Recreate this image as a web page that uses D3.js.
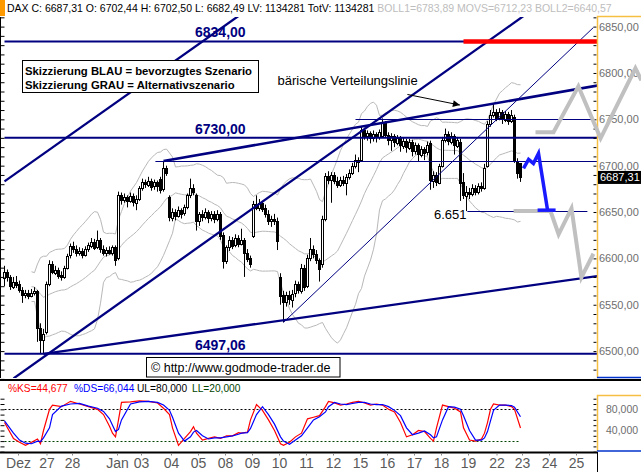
<!DOCTYPE html>
<html>
<head>
<meta charset="utf-8">
<script src="https://cdn.jsdelivr.net/npm/d3@7"></script>
<style>
body { margin: 0; background: #fff; }
svg { display: block; font-family: "Liberation Sans", Arial, sans-serif; }
</style>
</head>
<body>
<svg id="chart" width="641" height="472"></svg>
<script>
// hourly DAX candles, 22 Dec - 23 Jan
var opens = [6578,6585,6580,6570,6575,6572,6566,6561,6563,6560,
  6563,6565,6525,6512,6520,6572,6594,6585,6588,6582,
  6580,6590,6603,6613,6610,6606,6608,6604,6610,6614,
  6618,6612,6620,6610,6606,6609,6606,6612,6600,6668,
  6663,6666,6662,6667,6660,6664,6676,6682,6680,6684,
  6678,6682,6686,6674,6697,6666,6644,6650,6646,6652,
  6648,6655,6668,6676,6668,6640,6648,6645,6650,6644,
  6648,6643,6648,6625,6597,6612,6620,6614,6622,6616,
  6620,6606,6600,6625,6659,6655,6660,6654,6648,6640,
  6642,6640,6580,6560,6552,6560,6556,6562,6572,6565,
  6590,6570,6600,6610,6605,6598,6594,6643,6689,6685,
  6690,6684,6680,6685,6682,6688,6692,6700,6706,6706,
  6738,6732,6735,6730,6734,6731,6732,6746,6733,6728,
  6732,6725,6730,6722,6727,6720,6726,6716,6722,6712,
  6718,6714,6724,6684,6690,6682,6700,6728,6734,6726,
  6732,6722,6726,6682,6668,6672,6670,6676,6672,6678,
  6676,6700,6745,6755,6758,6752,6758,6750,6756,6748,
  6752,6705,6702.44];
var highs = [6592,6588,6582,6580,6581,6576,6569,6566,6566,6567,
  6569,6566,6530,6524,6575,6598,6597,6592,6590,6586,
  6592,6605,6616,6618,6614,6612,6611,6613,6617,6622,
  6621,6630,6622,6614,6612,6613,6614,6614,6672,6671,
  6670,6668,6671,6670,6668,6678,6686,6685,6688,6686,
  6685,6684,6688,6705,6700,6668,6654,6653,6656,6654,
  6658,6670,6686,6680,6670,6650,6652,6654,6652,6651,
  6651,6652,6650,6628,6614,6624,6623,6626,6625,6632,
  6622,6610,6603,6662,6668,6664,6662,6658,6652,6646,
  6648,6644,6584,6565,6564,6565,6566,6576,6575,6594,
  6593,6604,6622,6614,6609,6600,6646,6692,6694,6693,
  6693,6688,6688,6689,6691,6696,6703,6712,6709,6742,
  6741,6738,6737,6738,6736,6739,6751,6748,6736,6735,
  6734,6733,6732,6730,6729,6729,6728,6725,6724,6721,
  6720,6726,6727,6694,6693,6702,6731,6740,6737,6736,
  6734,6731,6729,6692,6678,6676,6680,6679,6681,6682,
  6702,6748,6760,6767,6761,6762,6760,6759,6758,6760,
  6755,6708,6702.5];
var lows = [6570,6575,6566,6567,6568,6563,6552,6557,6556,6558,
  6560,6510,6497,6497,6518,6570,6583,6582,6578,6576,
  6578,6588,6600,6606,6602,6603,6600,6602,6607,6611,
  6609,6610,6606,6603,6602,6604,6603,6592,6598,6658,
  6660,6655,6660,6656,6652,6662,6673,6676,6677,6673,
  6674,6672,6670,6672,6689,6640,6640,6641,6644,6643,
  6646,6653,6665,6668,6630,6635,6640,6642,6638,6640,
  6638,6640,6620,6589,6594,6608,6610,6612,6612,6614,
  6580,6596,6590,6622,6652,6651,6650,6644,6636,6634,
  6636,6609,6550,6531,6548,6550,6547,6558,6562,6562,
  6565,6568,6597,6600,6594,6575,6590,6640,6680,6660,
  6680,6676,6677,6678,6668,6685,6690,6697,6693,6704,
  6728,6727,6724,6726,6725,6728,6730,6730,6722,6716,
  6720,6722,6715,6718,6714,6717,6710,6712,6705,6709,
  6706,6711,6674,6676,6678,6680,6698,6725,6722,6723,
  6712,6719,6662,6664,6651,6664,6667,6668,6669,6672,
  6674,6698,6742,6752,6748,6749,6745,6747,6744,6746,
  6703,6686,6682.49];
var closes = [6585,6580,6570,6575,6572,6566,6561,6563,6560,6563,
  6565,6525,6512,6518,6572,6594,6585,6588,6582,6580,
  6590,6603,6613,6610,6606,6608,6604,6610,6614,6618,
  6612,6620,6610,6606,6609,6606,6612,6598,6668,6663,
  6666,6662,6667,6660,6664,6676,6682,6680,6684,6678,
  6682,6678,6674,6697,6692,6644,6650,6646,6652,6648,
  6655,6668,6676,6672,6640,6648,6645,6650,6644,6648,
  6643,6648,6624,6597,6612,6620,6614,6622,6616,6620,
  6606,6600,6594,6659,6655,6660,6654,6648,6640,6642,
  6640,6618,6560,6552,6560,6556,6562,6572,6566,6590,
  6570,6600,6610,6605,6598,6588,6643,6689,6685,6690,
  6684,6680,6685,6682,6688,6692,6700,6706,6704,6738,
  6732,6735,6730,6734,6731,6736,6746,6733,6728,6732,
  6725,6730,6722,6727,6720,6726,6716,6722,6712,6718,
  6714,6722,6684,6690,6682,6700,6728,6734,6726,6732,
  6722,6728,6682,6668,6672,6670,6676,6672,6678,6676,
  6698,6745,6755,6758,6752,6758,6750,6756,6748,6755,
  6706,6692,6687.31];

// slow stochastic
var stochIdx = [0,3,5,7,9,11,12,13,15,16,19,22,25,28,31,33,35,36,37,38,39,42,45,48,51,53,55,56,58,60,
  62,63,64,66,68,70,72,74,76,78,79,81,82,84,86,88,90,92,93,95,97,99,101,103,105,107,108,110,112,114,
  116,118,120,122,124,126,128,130,132,134,136,138,140,142,143,144,146,148,150,152,153,155,157,159,160,
  161,162,163,165,167,169,170,172];
var stochK = [55,25,18,12,18,24,15,40,80,88,85,95,90,85,80,70,48,35,28,60,93,94,96,95,92,82,70,45,12,25,
  38,47,35,22,25,28,25,30,30,36,35,37,60,89,78,60,40,15,12,18,28,35,62,65,68,85,95,92,88,90,
  93,95,92,88,90,88,80,75,55,28,32,40,38,25,20,45,88,85,82,75,45,22,20,24,35,
  55,80,90,88,88,85,80,44.677];
var stochD = [58,35,22,16,15,20,19,26,45,70,86,90,91,86,82,76,62,50,38,42,60,90,94,95,93,88,78,65,35,20,
  28,37,40,30,24,26,26,28,30,33,35,36,44,70,85,70,52,28,20,14,22,30,45,60,66,75,85,93,90,89,
  91,93,93,90,89,89,85,78,68,45,32,35,39,32,26,28,60,85,84,80,68,40,22,22,26,
  38,58,78,88,88,87,84,66.044];

var dayLabels = ["Dez","27","28","Jan","03","04","05","08","09","10","11","12","15","16","17","18","19","22","23","24","25"];
var dayTicks = [4.5,14,22.5,37.5,45.5,55.5,64.5,73.5,82.5,91.5,100.5,109.5,118.5,127.5,136.5,145.5,154.5,164,172.5,181.5,190.5];

// drawn analysis
var levelPrices = [6834, 6730, 6497.06];
var levelLabels = ["6834,00", "6730,00", "6497,06"];
var markLevels = [6750, 6705, 6651];
var markFrom = [117, 50.3, 154.3];
var markTo = [196, 197.7, 194.3];
var trendFrom = [[0, 6683], [3, 6470.5], [93, 6531], [13, 6497], [53, 6705]];
var trendTo = [[80, 6866], [175, 6866], [196.3, 6849], [197.7, 6581], [197.7, 6786.5]];
var trendWidth = [2.3, 2.3, 1, 2.3, 2.6];
var redLevel = 6834, redFrom = 153, redTo = 197.7;
var grayUpIdx = [177, 183, 191.3, 198.7, 210.3, 212.3];
var grayUpVal = [6736, 6736, 6785.5, 6729.5, 6805, 6792];
var grayLoIdx = [169.7, 182, 184.7, 189, 192.3, 196.3];
var grayLoVal = [6651, 6651, 6626, 6654, 6579.5, 6605];
var blueIdx = [173, 174.7, 176.3, 178, 181];
var blueVal = [6697, 6706.7, 6702.4, 6713.2, 6652.5];
var blueFlatIdx = [177.7, 183.7], blueFlatVal = 6652;

var svg = d3.select("#chart");
var navy = "#000080", axisCol = "#f5bf42", labCol = "#6e6e6e";

var x = d3.scaleLinear().domain([0, 197]).range([4.5, 595.5]);
var y = d3.scaleLinear().domain([6500, 6850]).range([351.1, 26.6]);
var ys = d3.scaleLinear().domain([0, 100]).range([451.7, 398.7]);
var comma = d3.formatLocale({decimal: ",", thousands: ".", grouping: [3], currency: ["", ""]});
var fmt2 = comma.format(".2f"), fmt3 = comma.format(".3f");

svg.append("rect").attr("width", 641).attr("height", 472).attr("fill", "#fff");

// header
svg.append("rect").attr("x", 0).attr("y", 0).attr("width", 5).attr("height", 16).attr("fill", "#ff9900");
var head = svg.append("text").attr("x", 7).attr("y", 12).attr("font-size", 10.5);
head.append("tspan").attr("fill", "#000")
  .text("DAX C: " + fmt2(closes[closes.length-1]) + " O: " + fmt2(opens[opens.length-1]) +
        " H: " + fmt2(highs[highs.length-1]) + " L: " + fmt2(lows[lows.length-1]) +
        " LV: 1134281 TotV: 1134281 ");
head.append("tspan").attr("fill", "#bdbdbd").text("BOLL1=6783,89 MOVS=6712,23 BOLL2=6640,57");

svg.append("defs").append("clipPath").attr("id", "mainclip")
  .append("rect").attr("x", 2).attr("y", 17).attr("width", 595).attr("height", 361);
svg.select("defs").append("marker").attr("id", "arr").attr("viewBox", "0 0 10 10")
  .attr("refX", 10).attr("refY", 5).attr("markerWidth", 10).attr("markerHeight", 7)
  .attr("orient", "auto").attr("markerUnits", "userSpaceOnUse")
  .append("path").attr("d", "M0,0L10,5L0,10z").attr("fill", "#000");

var main = svg.append("g").attr("clip-path", "url(#mainclip)");

// bollinger bands from the closes (20 bars, 2 sigma)
var boll = closes.map(function (c, i) {
  if (i < 9) return null;
  var w = closes.slice(Math.max(0, i - 19), i + 1);
  var m = d3.mean(w);
  var sd = Math.sqrt(d3.mean(w, function (v) { return (v - m) * (v - m); }));
  return {i: i, m: m, up: m + 2 * sd, lo: m - 2 * sd};
}).filter(Boolean);
["up", "m", "lo"].forEach(function (k) {
  main.append("path").datum(boll)
    .attr("fill", "none").attr("stroke", "#b8b8b8").attr("stroke-width", 1)
    .attr("d", d3.line().x(function (d) { return x(d.i); }).y(function (d) { return y(d[k]); }));
});

// candles
var bars = opens.map(function (o, i) {
  return {i: i, o: o, h: highs[i], l: lows[i], c: closes[i]};
});
main.selectAll("line.wick").data(bars).join("line").attr("class", "wick")
  .attr("x1", function (d) { return x(d.i); }).attr("x2", function (d) { return x(d.i); })
  .attr("y1", function (d) { return y(d.h); }).attr("y2", function (d) { return y(d.l); })
  .attr("stroke", "#000").attr("stroke-width", 1);
main.selectAll("rect.body").data(bars).join("rect").attr("class", "body")
  .attr("x", function (d) { return x(d.i) - 1; })
  .attr("width", 2)
  .attr("y", function (d) { return Math.round(y(Math.max(d.o, d.c))) + 0.5; })
  .attr("height", function (d) { return Math.max(1, Math.round(y(Math.min(d.o, d.c)) - y(Math.max(d.o, d.c)))); })
  .attr("fill", function (d) { return d.c >= d.o ? "#fff" : "#000"; })
  .attr("stroke", "#000").attr("stroke-width", 1);

// horizontal levels
levelPrices.forEach(function (p) {
  main.append("line").attr("x1", x(0)).attr("x2", x(197.7)).attr("y1", y(p)).attr("y2", y(p))
    .attr("stroke", navy).attr("stroke-width", 2);
});
markLevels.forEach(function (p, k) {
  main.append("line").attr("x1", x(markFrom[k])).attr("x2", x(markTo[k]))
    .attr("y1", Math.round(y(p)) + 0.5).attr("y2", Math.round(y(p)) + 0.5)
    .attr("stroke", navy).attr("stroke-width", 1);
});
trendFrom.forEach(function (a, k) {
  var b = trendTo[k];
  main.append("line").attr("x1", x(a[0])).attr("y1", y(a[1])).attr("x2", x(b[0])).attr("y2", y(b[1]))
    .attr("stroke", navy).attr("stroke-width", trendWidth[k]);
});
main.append("line").attr("x1", x(redFrom)).attr("x2", x(redTo)).attr("y1", y(redLevel)).attr("y2", y(redLevel))
  .attr("stroke", "#ff0000").attr("stroke-width", 4.5);

// level texts
levelPrices.forEach(function (p, k) {
  svg.append("text").attr("x", x(63.5)).attr("y", y(p) - 4)
    .attr("font-size", 14).attr("font-weight", "bold").attr("fill", navy).text(levelLabels[k]);
});

// annotation
svg.append("text").attr("x", x(91)).attr("y", y(6786.5)).attr("font-size", 13).attr("fill", "#000")
  .text("bärische Verteilungslinie");
svg.append("line").attr("x1", x(134.3)).attr("y1", y(6776.8)).attr("x2", x(151.8)).attr("y2", y(6765.4))
  .attr("stroke", "#000").attr("stroke-width", 1).attr("marker-end", "url(#arr)");
svg.append("text").attr("x", x(154)).attr("y", y(6651) + 7.5).attr("text-anchor", "end")
  .attr("font-size", 13).attr("fill", "#000").text("6.651");

// legend box
svg.append("rect").attr("x", 22.5).attr("y", 60.5).attr("width", 236).attr("height", 32)
  .attr("fill", "#fff").attr("stroke", "#000").attr("stroke-width", 1);
svg.append("text").attr("x", 25).attr("y", 74.5).attr("font-size", 11.3).attr("font-weight", "bold")
  .text("Skizzierung BLAU = bevorzugtes Szenario");
svg.append("text").attr("x", 25).attr("y", 89).attr("font-size", 11.3).attr("font-weight", "bold")
  .text("Skizzierung GRAU = Alternativszenario");

// copyright box
svg.append("rect").attr("x", 146.5).attr("y", 357.5).attr("width", 193.5).attr("height", 19.5)
  .attr("fill", "#fff").attr("stroke", "#000").attr("stroke-width", 1);
svg.append("text").attr("x", 151).attr("y", 372).attr("font-size", 12.5).text("© http://www.godmode-trader.de");

// price axes
var leftAx = svg.append("g").attr("transform", "translate(0.5,0)")
  .call(d3.axisRight(y).tickValues(d3.range(6470, 6861, 10)).tickSize(4).tickSizeOuter(0).tickFormat(""));
leftAx.select(".domain").attr("d", "M0,17V378");
var rightTicks = svg.append("g").attr("transform", "translate(596.5,0)")
  .call(d3.axisLeft(y).tickValues(d3.range(6470, 6861, 10)).tickSize(3).tickSizeOuter(0).tickFormat(""));
rightTicks.select(".domain").remove();
var rightAx = svg.append("g").attr("transform", "translate(597,0)")
  .call(d3.axisRight(y).tickValues(d3.range(6500, 6851, 50)).tickSize(0).tickPadding(2).tickFormat(fmt2));
rightAx.select(".domain").remove();
rightAx.selectAll("text").attr("font-size", 11).attr("font-family", "Liberation Sans, Arial, sans-serif").attr("fill", labCol);
svg.append("path").attr("d", "M597.5,378V16.5H641").attr("fill", "none").attr("stroke", axisCol).attr("stroke-width", 1.5);
svg.append("line").attr("x1", 597).attr("x2", 641).attr("y1", 377.5).attr("y2", 377.5).attr("stroke", "#0033cc").attr("stroke-width", 1.5);

// last price tag
var last = closes[closes.length - 1];
svg.append("rect").attr("x", 598).attr("y", y(last) - 6.5).attr("width", 43).attr("height", 13).attr("fill", "#000");
svg.append("text").attr("x", 600).attr("y", y(last) + 4).attr("font-size", 11).attr("fill", "#fff").text(fmt2(last));

// scenario sketches
var line = d3.line().x(function (d) { return x(d[0]); }).y(function (d) { return y(d[1]); });
svg.append("path").datum(grayLoIdx.map(function (v, k) { return [v, grayLoVal[k]]; }))
  .attr("d", line).attr("fill", "none").attr("stroke", "#c0c0c0").attr("stroke-width", 4);
svg.append("path").datum(grayUpIdx.map(function (v, k) { return [v, grayUpVal[k]]; }))
  .attr("d", line).attr("fill", "none").attr("stroke", "#c0c0c0").attr("stroke-width", 4);
svg.append("path").datum(blueIdx.map(function (v, k) { return [v, blueVal[k]]; }))
  .attr("d", line).attr("fill", "none").attr("stroke", "#1a1aff").attr("stroke-width", 3.5);
svg.append("line").attr("x1", x(blueFlatIdx[0])).attr("x2", x(blueFlatIdx[1]))
  .attr("y1", y(blueFlatVal)).attr("y2", y(blueFlatVal)).attr("stroke", "#1a1aff").attr("stroke-width", 3.5);

// panel separator
svg.append("rect").attr("x", 0).attr("y", 379).attr("width", 641).attr("height", 2).attr("fill", "#000");

// stochastic panel
var leg = [["%KS=" + fmt3(stochK[stochK.length-1]), "#ff0000", 8],
           ["%DS=" + fmt3(stochD[stochD.length-1]), "#0000ff", 74],
           ["UL=80,000", "#000", 137], ["LL=20,000", "#004400", 192]];
leg.forEach(function (l) {
  svg.append("text").attr("x", l[2]).attr("y", 392).attr("font-size", 10.2).attr("fill", l[1]).text(l[0]);
});
[[80, "#000"], [20, "#004400"]].forEach(function (u) {
  svg.append("line").attr("x1", x(0)).attr("x2", x(172)).attr("y1", Math.round(ys(u[0])) + 0.5).attr("y2", Math.round(ys(u[0])) + 0.5)
    .attr("stroke", u[1]).attr("stroke-width", 1).attr("stroke-dasharray", "2,2");
});
var sline = d3.line().x(function (d) { return x(d[0]); }).y(function (d) { return ys(d[1]); });
svg.append("path").datum(stochIdx.map(function (v, k) { return [v, stochK[k]]; }))
  .attr("d", sline).attr("fill", "none").attr("stroke", "#ff0000").attr("stroke-width", 1.2);
svg.append("path").datum(stochIdx.map(function (v, k) { return [v, stochD[k]]; }))
  .attr("d", sline).attr("fill", "none").attr("stroke", "#0000ff").attr("stroke-width", 1.2);

var sLeft = svg.append("g").attr("transform", "translate(0.5,0)")
  .call(d3.axisRight(ys).tickValues(d3.range(0, 101, 10)).tickSize(4).tickSizeOuter(0).tickFormat(""));
sLeft.select(".domain").remove();
var sRight = svg.append("g").attr("transform", "translate(596.5,0)")
  .call(d3.axisLeft(ys).tickValues(d3.range(0, 101, 10)).tickSize(3).tickSizeOuter(0).tickFormat(""));
sRight.select(".domain").remove();
var sAx = svg.append("g").attr("transform", "translate(605,0)")
  .call(d3.axisRight(ys).tickValues([40, 80]).tickSize(0).tickPadding(1).tickFormat(fmt3));
sAx.select(".domain").remove();
sAx.selectAll("text").attr("font-size", 10.5).attr("font-family", "Liberation Sans, Arial, sans-serif").attr("fill", labCol);
svg.append("path").attr("d", "M597.5,451V395.5H641").attr("fill", "none").attr("stroke", axisCol).attr("stroke-width", 1.5);
svg.append("line").attr("x1", 597).attr("x2", 641).attr("y1", 451).attr("y2", 451).attr("stroke", "#0033cc").attr("stroke-width", 1.5);

// date axis
svg.append("rect").attr("x", 0).attr("y", 451.5).attr("width", 597).attr("height", 2).attr("fill", "#000");
svg.append("line").attr("x1", 597.5).attr("x2", 597.5).attr("y1", 452).attr("y2", 472).attr("stroke", "#000");
var dAx = svg.append("g").attr("transform", "translate(0,453.5)")
  .call(d3.axisBottom(x).tickValues(dayTicks).tickSize(2).tickPadding(3)
    .tickFormat(function (d, k) { return dayLabels[k]; }));
dAx.select(".domain").remove();
dAx.selectAll("line").attr("stroke", "#888");
dAx.selectAll("text").attr("font-size", 14).attr("font-family", "Liberation Sans, Arial, sans-serif").attr("fill", "#5a5a5a");
</script>
</body>
</html>
